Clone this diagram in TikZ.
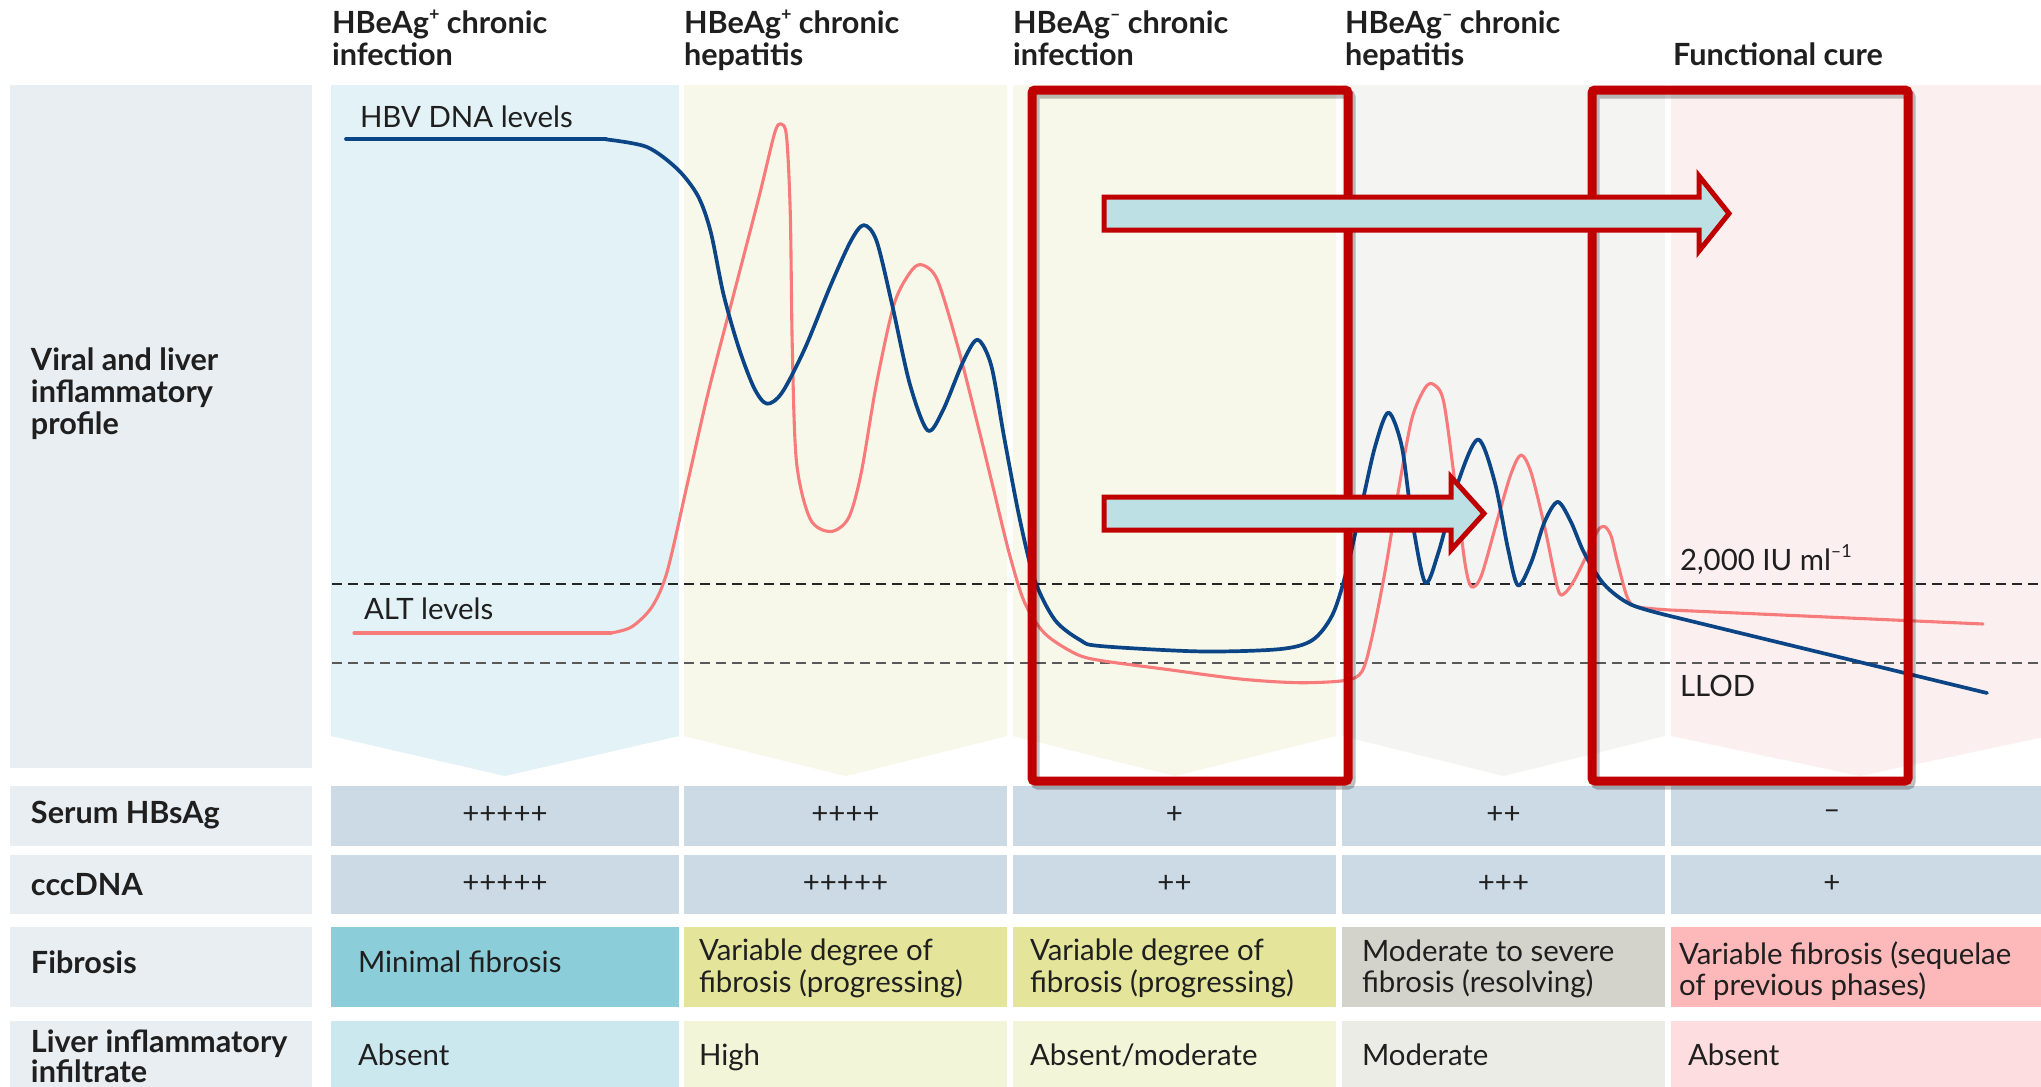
\documentclass[tikz,border=0pt]{standalone}
\usepackage{fontspec}
\setmainfont{Lato}
\definecolor{labc}{HTML}{E9EEF2}
\definecolor{ctop1}{HTML}{E2F2F6}
\definecolor{cfib1}{HTML}{8BCDD9}
\definecolor{cliv1}{HTML}{CCE8EF}
\definecolor{ctop2}{HTML}{F7F8EA}
\definecolor{cfib2}{HTML}{E4E59B}
\definecolor{cliv2}{HTML}{F3F5D9}
\definecolor{ctop4}{HTML}{F4F4F2}
\definecolor{cfib4}{HTML}{D3D3CB}
\definecolor{cliv4}{HTML}{ECECE7}
\definecolor{ctop5}{HTML}{FCEFEF}
\definecolor{cfib5}{HTML}{FDB9B9}
\definecolor{cliv5}{HTML}{FDDDE0}
\definecolor{cellb}{HTML}{CCDAE6}
\definecolor{boxred}{HTML}{C00000}
\definecolor{arrowc}{HTML}{BCE0E3}
\definecolor{hbvc}{HTML}{0B4586}
\definecolor{altc}{HTML}{F77B7B}
\newcommand{\supx}[1]{\raisebox{0.42em}{\fontsize{9}{9}\selectfont #1}}
\begin{document}
\begin{tikzpicture}[x=0.5pt,y=-0.5pt,
  every node/.style={inner sep=0pt, outer sep=0pt, text=black!88, font=\fontsize{14.7}{16}\selectfont},
  hdr/.style={anchor=base west, font=\bfseries\fontsize{15.3}{16}\selectfont},
  txt/.style={anchor=base west},
  pm/.style={anchor=center},
  hbvcurve/.style={draw=hbvc, line width=1.85pt, line cap=round, line join=round},
  altcurve/.style={draw=altc, line width=1.55pt, line cap=round, line join=round},
  redbox/.style={draw=boxred, line width=4.5pt, rounded corners=1.5pt},
  boxshadow/.style={draw=black, opacity=0.25, line width=4.5pt, rounded corners=1.5pt},
  blockarrow/.style={draw=boxred, line width=2.5pt, fill=arrowc, miter limit=10},
  dline/.style={dash pattern=on 5pt off 3pt, line width=0.7pt}
]
\useasboundingbox (0,0) rectangle (2041,1087);
\clip (0,0) rectangle (2041,1087);
\fill[white] (0,0) rectangle (2041,1087);

% left label column
\fill[labc] (10,85) rectangle (312,768);
\fill[labc] (10,786) rectangle (312,846);
\fill[labc] (10,855) rectangle (312,914);
\fill[labc] (10,927) rectangle (312,1007);
\fill[labc] (10,1021) rectangle (312,1100);

% chevron panels
\fill[ctop1] (331,85) -- (679,85) -- (679,736) -- (505,776) -- (331,736) -- cycle;
\fill[ctop2] (684,85) -- (1007,85) -- (1007,736) -- (845.5,776) -- (684,736) -- cycle;
\fill[ctop2] (1013,85) -- (1336,85) -- (1336,736) -- (1174.5,776) -- (1013,736) -- cycle;
\fill[ctop4] (1342,85) -- (1665,85) -- (1665,736) -- (1503.5,776) -- (1342,736) -- cycle;
\fill[ctop5] (1671,85) -- (2049,85) -- (2049,736) -- (1860,776) -- (1671,736) -- cycle;

% table cells
\foreach \xa/\xb in {331/679,684/1007,1013/1336,1342/1665,1671/2049}{
  \fill[cellb] (\xa,786) rectangle (\xb,846);
  \fill[cellb] (\xa,855) rectangle (\xb,914);
}
\fill[cfib1] (331,927) rectangle (679,1007);
\fill[cfib2] (684,927) rectangle (1007,1007);
\fill[cfib2] (1013,927) rectangle (1336,1007);
\fill[cfib4] (1342,927) rectangle (1665,1007);
\fill[cfib5] (1671,927) rectangle (2049,1007);
\fill[cliv1] (331,1021) rectangle (679,1100);
\fill[cliv2] (684,1021) rectangle (1007,1100);
\fill[cliv2] (1013,1021) rectangle (1336,1100);
\fill[cliv4] (1342,1021) rectangle (1665,1100);
\fill[cliv5] (1671,1021) rectangle (2049,1100);

% headers
\node[hdr] (h1a) at (332,33) {HBeAg\supx{+} chronic};
\node[hdr] (h1b) at (332,65) {infection};
\node[hdr] (h2a) at (684,33) {HBeAg\supx{+} chronic};
\node[hdr] (h2b) at (684,65) {hepatitis};
\node[hdr] (h3a) at (1013,33) {HBeAg\supx{--} chronic};
\node[hdr] (h3b) at (1013,65) {infection};
\node[hdr] (h4a) at (1345,33) {HBeAg\supx{--} chronic};
\node[hdr] (h4b) at (1345,65) {hepatitis};
\node[hdr] (h5) at (1673,65) {Functional cure};

% row labels
\node[hdr] (r1a) at (31,370) {Viral and liver};
\node[hdr] (r1b) at (31,402) {inflammatory};
\node[hdr] (r1c) at (31,434) {profile};
\node[hdr] (r2) at (31,823) {Serum HBsAg};
\node[hdr] (r3) at (31,895) {cccDNA};
\node[hdr] (r4) at (31,973) {Fibrosis};
\node[hdr] (r5a) at (31,1052) {Liver inflammatory};
\node[hdr] (r5b) at (31,1082) {infiltrate};

% serum HBsAg / cccDNA values
\node[pm] (s1) at (505,815) {+++++};
\node[pm] (s2) at (845.5,815) {++++};
\node[pm] (s3) at (1174.5,815) {+};
\node[pm] (s4) at (1503.5,815) {++};
\node[pm] (s5) at (1832,815) {--};
\node[pm] (c1) at (505,884) {+++++};
\node[pm] (c2) at (845.5,884) {+++++};
\node[pm] (c3) at (1174.5,884) {++};
\node[pm] (c4) at (1503.5,884) {+++};
\node[pm] (c5) at (1832,884) {+};

% fibrosis
\node[txt] (f1) at (358,972) {Minimal fibrosis};
\node[txt] (f2a) at (699,960) {Variable degree of};
\node[txt] (f2b) at (699,992) {fibrosis (progressing)};
\node[txt] (f3a) at (1030,960) {Variable degree of};
\node[txt] (f3b) at (1030,992) {fibrosis (progressing)};
\node[txt] (f4a) at (1362,961) {Moderate to severe};
\node[txt] (f4b) at (1362,992) {fibrosis (resolving)};
\node[txt] (f5a) at (1679,964) {Variable fibrosis (sequelae};
\node[txt] (f5b) at (1679,995) {of previous phases)};

% liver infiltrate
\node[txt] (l1) at (358,1065) {Absent};
\node[txt] (l2) at (699,1065) {High};
\node[txt] (l3) at (1030,1065) {Absent/moderate};
\node[txt] (l4) at (1362,1065) {Moderate};
\node[txt] (l5) at (1688,1065) {Absent};

% dashed thresholds
\draw[dline, black!85] (332,584) -- (2041,584);
\draw[dline, black!65] (332,663) -- (2041,663);

% curve labels
\node[txt] (lhbv) at (360,127) {HBV DNA levels};
\node[txt] (lalt) at (364,619) {ALT levels};
\node[txt] (l2000) at (1680,570) {2,000 IU ml\supx{--1}};
\node[txt] (lllod) at (1680,696) {LLOD};

% ALT curve
\draw[altcurve] (354,633) -- (611,633);
\draw[altcurve] plot[smooth, tension=0.5] coordinates {
 (611,633) (631.6,626.9) (652.0,606.8) (667.3,571.1) (687.8,481.8) (708.2,392.5)
 (733.7,294.3) (759.2,196.1) (774.5,133.6) (780.6,123.8) (786.5,136) (790.3,213.9)
 (792.3,347.9) (796.5,462) (810.2,519) (830.6,531.5) (848.5,518) (861.2,472.9)
 (876.5,383.6) (894.4,303.2) (912.2,269.7) (923.5,265.3) (937.8,280.9) (958.2,347.9)
 (978.6,428.2) (993.9,490.7) (1009.2,553.2) (1024.5,602.3) (1044.9,633.6) (1075.5,653.7)
 (1100,660.4) (1166.0,669.3) (1240,679) (1298.8,682.7) (1345.3,680.4) (1361.9,671.5)
 (1371.8,638.0) (1385.1,571.1) (1398.4,490.7) (1411.7,419.3) (1425.0,388.0) (1433.6,384.5)
 (1443.6,401.4) (1454.8,481.8) (1464.8,562.1) (1471.4,586.7) (1481.4,575.5) (1498.0,517.5)
 (1511.3,472.9) (1521.2,455.0) (1531.2,472.9) (1544.5,526.4) (1557.8,589.0) (1564.4,593.4)
 (1574.4,580.0) (1587.6,553.2) (1597.6,530.9) (1604.2,526.4) (1610.9,535.4) (1617.5,562.1)
 (1627.5,597.9) (1637.5,606.8) (1670,610)} -- (1983,624);

% HBV DNA curve
\draw[hbvcurve] (346,139) -- (606,139);
\draw[hbvcurve] plot[smooth, tension=0.5] coordinates {
 (606.1,139.4) (646.9,147.0) (677.6,169.3) (698.0,196.1) (710.7,231.8) (723.5,294.3)
 (738.8,347.9) (754.1,388.0) (766.8,403.7) (782.1,392.5) (805.1,347.9) (830.6,285.4)
 (851.0,240.7) (863.8,225.1) (876.5,240.7) (891.8,303.2) (909.7,383.6) (927.6,430.4)
 (942.9,410.4) (963.3,361.3) (977.6,339.8) (991.3,365.7) (1004.1,437.1) (1019.4,517.5)
 (1034.7,580.0) (1055.1,620.2) (1080.6,640.3) (1100,646) (1199.2,651.4) (1278.9,649.2)
 (1312.1,640.3) (1332.0,615.7) (1345.3,575.5) (1361.9,504.1) (1375.2,446.1) (1388.4,412.6)
 (1401.7,446.1) (1411.7,517.5) (1425.0,582.2) (1438.2,553.2) (1458.2,481.8) (1478.1,439.4)
 (1494.7,481.8) (1508.0,548.8) (1518.0,585.4) (1531.3,562.1) (1544.5,522.0) (1557.8,501.9)
 (1571.0,522.0) (1584.3,553.2) (1604.2,584.5) (1630.8,604.5) (1670,616)} -- (1987,693);

% red boxes with shadow
\draw[boxshadow] (1035,94) rectangle (1351,785);
\draw[boxshadow] (1595,94) rectangle (1911,785);
\draw[redbox] (1032,90) rectangle (1348,781);
\draw[redbox] (1592,90) rectangle (1908,781);

% block arrows
\draw[blockarrow] (1104,197) -- (1699,197) -- (1699,176) -- (1729,213.5) -- (1699,251) -- (1699,230) -- (1104,230) -- cycle;
\draw[blockarrow] (1104,497) -- (1451,497) -- (1451,477) -- (1484,513.5) -- (1451,550) -- (1451,530) -- (1104,530) -- cycle;
\end{tikzpicture}
\end{document}
